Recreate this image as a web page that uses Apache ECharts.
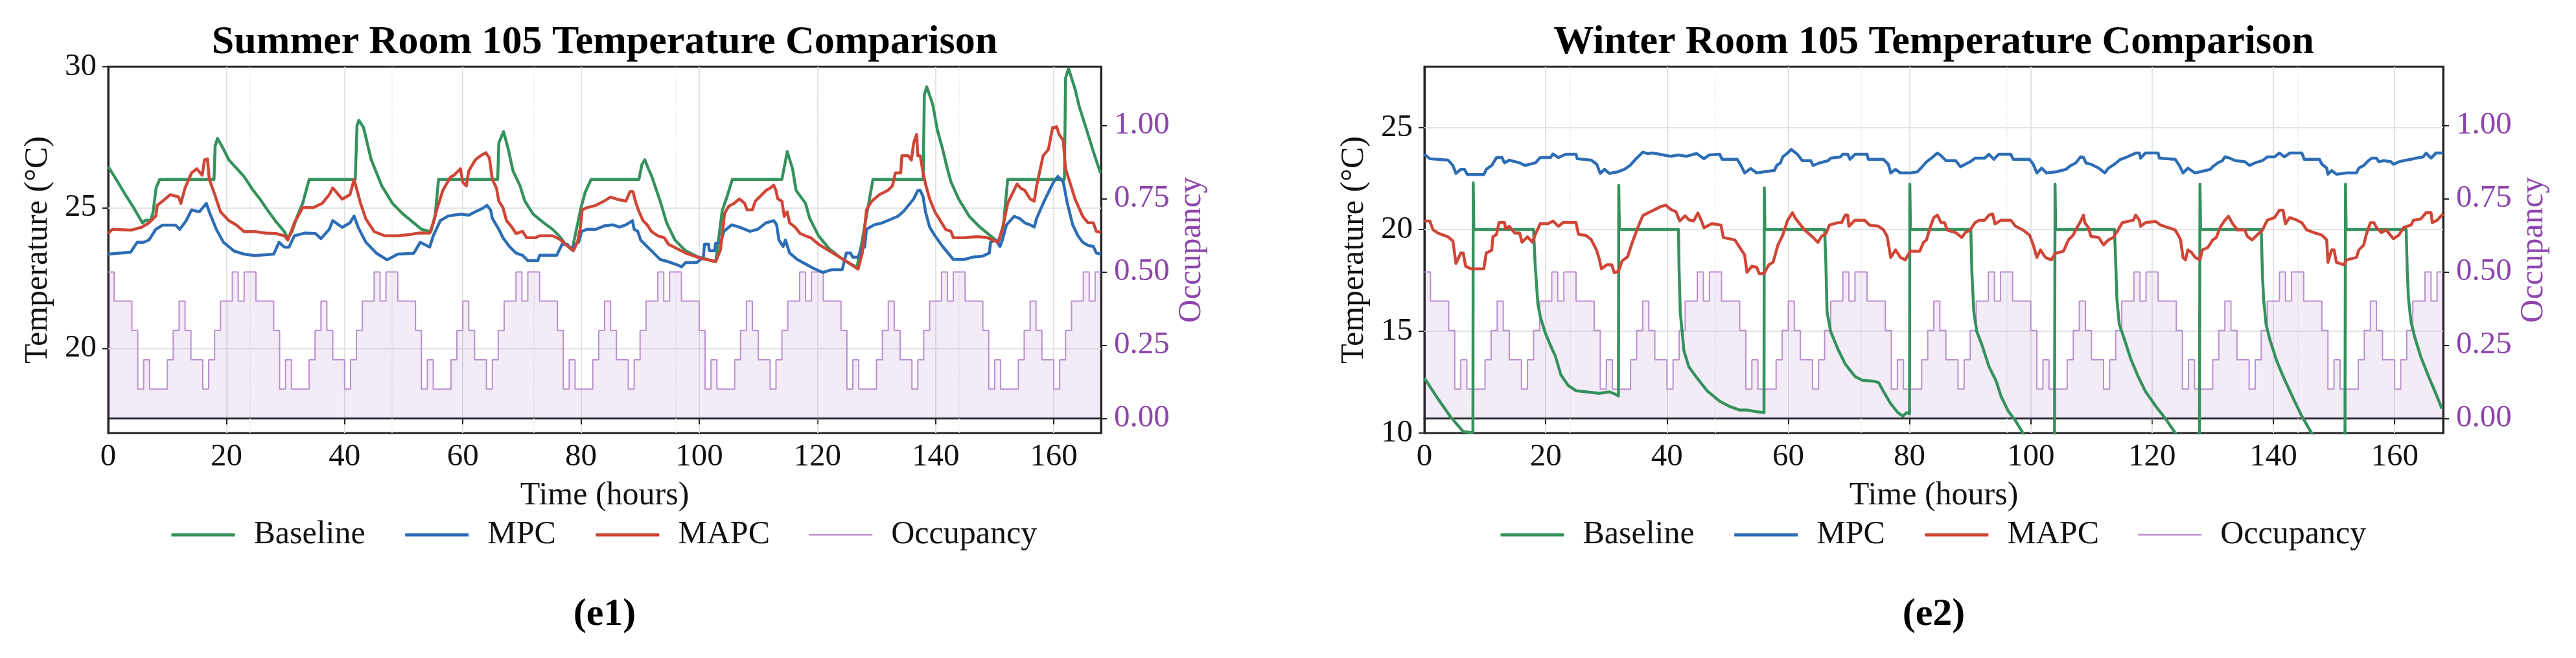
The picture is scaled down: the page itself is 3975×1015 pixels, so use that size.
<!DOCTYPE html>
<html>
<head>
<meta charset="utf-8">
<title>Room 105 Temperature Comparison</title>
<script src="https://cdn.jsdelivr.net/npm/echarts@6/dist/echarts.min.js"></script>
<style>
  html, body { margin: 0; padding: 0; background: #fff; }
  #main { width: 3975px; height: 1015px; }
</style>
</head>
<body>
<div id="main"></div>
<script>
// axis ticks
var timeTicks = [0, 20, 40, 60, 80, 100, 120, 140, 160];
var dayMarks = [24, 48, 72, 96, 120, 144];
var summerTempTicks = [20, 25, 30];
var winterTempTicks = [10, 15, 20, 25];
var occupancyTicks = [0, 0.25, 0.5, 0.75, 1];

// occupancy, one value per hour (last entry closes the final step at 168 h)
var occupancy = [
  0.5,0.4,0.4,0.4,0.3,0.1,0.2,0.1,0.1,0.1,0.2,0.3,0.4,0.3,0.2,0.2,0.1,0.2,0.3,0.4,0.4,0.5,0.4,0.5,
  0.5,0.4,0.4,0.4,0.3,0.1,0.2,0.1,0.1,0.1,0.2,0.3,0.4,0.3,0.2,0.2,0.1,0.2,0.3,0.4,0.4,0.5,0.4,0.5,
  0.5,0.4,0.4,0.4,0.3,0.1,0.2,0.1,0.1,0.1,0.2,0.3,0.4,0.3,0.2,0.2,0.1,0.2,0.3,0.4,0.4,0.5,0.4,0.5,
  0.5,0.4,0.4,0.4,0.3,0.1,0.2,0.1,0.1,0.1,0.2,0.3,0.4,0.3,0.2,0.2,0.1,0.2,0.3,0.4,0.4,0.5,0.4,0.5,
  0.5,0.4,0.4,0.4,0.3,0.1,0.2,0.1,0.1,0.1,0.2,0.3,0.4,0.3,0.2,0.2,0.1,0.2,0.3,0.4,0.4,0.5,0.4,0.5,
  0.5,0.4,0.4,0.4,0.3,0.1,0.2,0.1,0.1,0.1,0.2,0.3,0.4,0.3,0.2,0.2,0.1,0.2,0.3,0.4,0.4,0.5,0.4,0.5,
  0.5,0.4,0.4,0.4,0.3,0.1,0.2,0.1,0.1,0.1,0.2,0.3,0.4,0.3,0.2,0.2,0.1,0.2,0.3,0.4,0.4,0.5,0.4,0.5,
  0.5
];

// summer, [hour, degC]
var summerBaseline = [
  [0,26.46],[1.6,25.92],[2.9,25.46],[4.3,25.0],[5.8,24.46],[6.3,24.55],[7.2,24.55],[7.6,24.85],[8.1,25.7],[8.7,26.0],
  [17.9,26.0],[18.1,27.2],[18.5,27.46],[19.5,27.08],[20.4,26.7],[21.6,26.42],[23.0,26.1],[24.4,25.65],[25.7,25.3],[27.0,24.9],
  [28.4,24.5],[29.8,24.15],[30.4,23.9],[31.1,24.15],[32.0,24.7],[32.9,25.15],[34.0,26.0],[41.8,26.0],[42.1,27.9],[42.4,28.1],
  [43.2,27.85],[44.5,26.7],[46.3,25.77],[48.1,25.15],[49.9,24.77],[51.7,24.46],[53.0,24.23],[54.6,24.15],[55.3,24.7],[55.9,26.0],
  [65.9,26.0],[66.1,27.3],[66.9,27.7],[67.7,27.07],[68.5,26.3],[69.7,25.77],[70.5,25.23],[71.9,24.77],[73.7,24.46],[75.2,24.23],
  [76.3,24.0],[77.4,23.7],[78.5,23.5],[80.0,25.0],[80.7,25.54],[81.7,26.0],[89.8,26.0],[90.3,26.53],[90.8,26.7],[91.4,26.38],
  [91.9,26.15],[93.4,25.23],[94.5,24.46],[95.9,23.85],[97.7,23.47],[99.9,23.24],[101.4,23.16],[102.8,23.08],[103.9,24.9],[104.7,25.38],
  [105.6,26.0],[114.0,26.0],[114.9,26.99],[115.8,26.38],[116.4,25.61],[118.0,25.15],[118.7,24.62],[120.2,24.0],[122.0,23.54],[123.8,23.24],
  [125.6,23.0],[126.7,22.89],[127.4,23.62],[128.3,24.7],[129.4,26.0],[137.9,26.0],[138.1,29.0],[138.5,29.29],[139.5,28.68],[140.3,27.76],
  [141.2,27.07],[141.9,26.46],[142.6,25.92],[143.9,25.31],[145.7,24.69],[147.5,24.31],[149.3,24.0],[150.6,23.77],[151.5,24.39],[152.2,26.0],
  [161.8,26.0],[162.0,29.6],[162.5,29.94],[163.6,29.21],[164.3,28.6],[165.8,27.6],[166.7,26.99],[167.9,26.23]
];
var summerMPC = [
  [0,23.35],[3.8,23.42],[4.9,23.77],[6.0,23.77],[6.9,23.85],[8.05,24.23],[9.2,24.38],[11.4,24.38],[12.1,24.23],[13.2,24.54],
  [14.1,24.92],[15.4,24.85],[16.6,25.15],[17.1,24.85],[18.3,24.23],[19.5,23.77],[21.3,23.46],[23.0,23.35],[24.8,23.3],[28.0,23.35],
  [28.9,23.77],[29.8,23.6],[30.6,23.6],[31.5,24.0],[33.3,24.1],[35.1,24.08],[36.0,23.9],[37.4,24.23],[38.0,24.54],[39.6,24.3],
  [40.9,24.46],[41.6,24.7],[42.3,24.3],[43.6,23.77],[45.4,23.38],[47.2,23.15],[49.0,23.35],[51.7,23.38],[52.8,23.77],[54.4,23.6],
  [55.0,24.0],[56.2,24.54],[57.5,24.7],[59.7,24.77],[61.0,24.73],[62.1,24.85],[63.2,24.96],[64.1,25.08],[64.7,24.92],[65.0,24.62],
  [66.1,24.23],[66.8,23.93],[67.9,23.62],[69.0,23.39],[70.1,23.31],[71.0,23.12],[72.7,23.12],[73.0,23.31],[75.9,23.31],[76.8,23.7],
  [77.7,23.7],[78.3,23.54],[79.0,23.7],[79.6,23.77],[80.1,24.16],[81.0,24.23],[82.5,24.23],[83.9,24.35],[85.4,24.39],[86.5,24.31],
  [87.6,24.39],[88.7,24.54],[89.0,24.23],[89.6,24.16],[90.1,23.85],[91.2,23.62],[92.3,23.39],[93.4,23.16],[94.8,23.08],[96.3,22.97],
  [97.0,22.9],[97.7,23.05],[99.6,23.05],[100.7,23.24],[100.9,23.7],[101.6,23.7],[101.7,23.47],[102.6,23.47],[102.8,23.74],[103.6,23.74],
  [104.2,24.16],[105.5,24.39],[106.8,24.31],[108.6,24.16],[109.9,24.23],[111.3,24.46],[112.6,24.54],[113.1,24.4],[113.5,23.85],[114.2,23.62],
  [114.6,23.85],[115.3,23.39],[116.6,23.16],[118.0,23.0],[119.3,22.85],[120.9,22.7],[122.5,22.8],[124.2,22.8],[124.9,23.39],[125.6,23.39],
  [126.0,23.24],[126.9,23.24],[127.4,23.54],[128.0,23.6],[128.3,24.23],[129.6,24.39],[131.0,24.46],[131.9,24.54],[133.6,24.69],[134.5,24.85],
  [135.4,25.08],[136.3,25.31],[137.0,25.61],[137.4,25.61],[137.9,25.38],[138.3,24.85],[139.0,24.31],[139.9,24.0],[141.2,23.62],[142.1,23.39],
  [143.0,23.16],[144.8,23.16],[146.2,23.24],[148.0,23.28],[149.1,23.39],[149.3,23.77],[150.2,23.85],[150.9,23.62],[151.3,23.85],[152.0,24.39],
  [153.3,24.69],[154.2,24.62],[155.1,24.46],[156.0,24.39],[156.7,24.31],[157.1,24.62],[158.2,25.15],[159.1,25.54],[160.0,25.92],[160.7,26.11],
  [161.6,25.92],[162.3,25.15],[163.2,24.39],[164.1,24.0],[164.9,23.77],[165.8,23.66],[166.7,23.62],[167.2,23.39],[168,23.35]
];
var summerMAPC = [
  [0,24.08],[0.7,24.23],[3.8,24.2],[5.6,24.3],[6.9,24.46],[8.05,24.7],[8.3,25.08],[9.6,25.3],[10.5,25.46],[11.9,25.38],
  [12.3,25.15],[13.0,25.7],[14.1,26.23],[15.0,26.38],[15.9,26.15],[16.3,26.7],[16.8,26.73],[17.1,26.0],[17.9,25.54],[19.0,24.85],
  [20.4,24.54],[21.7,24.38],[23.0,24.15],[24.8,24.15],[26.6,24.1],[28.4,24.08],[29.8,24.0],[30.4,23.85],[31.5,24.46],[32.9,25.0],
  [34.7,25.0],[36.2,25.15],[37.4,25.46],[38.0,25.7],[39.6,25.3],[40.9,25.46],[41.6,26.0],[41.8,25.85],[42.7,25.15],[43.6,24.6],
  [45.0,24.15],[46.8,24.0],[49.0,24.0],[50.8,24.04],[52.6,24.1],[54.4,24.1],[55.0,24.46],[55.7,25.0],[56.6,25.6],[57.9,26.08],
  [58.5,26.15],[59.6,26.38],[60.0,25.9],[60.6,25.77],[61.0,26.3],[62.1,26.69],[63.0,26.84],[63.9,26.95],[64.5,26.76],[65.0,26.0],
  [65.7,25.69],[66.1,25.23],[66.8,25.0],[67.4,24.54],[68.3,24.31],[69.0,24.08],[70.1,24.16],[70.8,23.93],[72.3,23.93],[73.0,24.0],
  [75.2,24.0],[76.3,23.89],[77.4,23.7],[78.7,23.47],[79.4,23.77],[79.9,24.3],[80.2,24.92],[81.0,25.0],[82.5,25.08],[83.9,25.23],
  [85.0,25.38],[86.1,25.3],[87.6,25.23],[88.3,25.57],[88.8,25.57],[89.2,25.23],[89.7,24.92],[90.5,24.54],[91.2,24.39],[91.9,24.16],
  [93.0,24.0],[94.1,23.93],[94.8,23.7],[96.3,23.54],[97.7,23.39],[99.2,23.28],[100.3,23.2],[102.1,23.12],[102.8,23.08],[103.6,23.5],
  [104.3,24.8],[105.0,25.05],[105.9,25.15],[106.8,25.31],[107.7,25.15],[108.1,24.92],[109.0,24.92],[109.5,25.23],[111.3,25.61],[112.0,25.69],
  [112.6,25.8],[113.0,25.61],[113.3,25.31],[114.0,25.23],[114.4,24.69],[114.9,24.85],[115.3,24.46],[116.2,24.31],[117.1,24.08],[118.0,24.0],
  [118.9,23.93],[120.2,23.7],[122.0,23.47],[123.8,23.24],[125.6,23.0],[126.9,22.82],[127.6,23.39],[128.3,24.92],[129.2,25.23],[130.5,25.46],
  [131.9,25.61],[132.7,25.77],[133.2,26.23],[134.1,26.23],[134.3,26.84],[135.4,26.84],[135.9,26.69],[136.3,27.3],[136.8,27.6],[137.0,26.84],
  [137.4,26.84],[137.9,26.23],[138.3,25.84],[139.0,25.31],[139.9,24.85],[140.8,24.54],[141.7,24.23],[142.6,24.16],[143.0,23.93],[144.8,23.93],
  [147.1,23.97],[148.8,23.93],[150.6,23.77],[151.3,24.23],[152.2,25.15],[152.9,25.46],[153.8,25.84],[154.4,25.69],[155.1,25.61],[156.0,25.31],
  [156.7,25.23],[157.1,25.77],[158.2,26.84],[159.1,27.07],[159.8,27.84],[160.5,27.87],[160.9,27.6],[161.6,27.38],[162.0,26.38],[162.7,25.92],
  [163.6,25.31],[164.9,24.69],[165.8,24.46],[166.7,24.46],[167.2,24.16],[168,24.12]
];

// winter, [hour, degC] (baseline night values fall below the 10 degC floor)
var winterBaseline = [
  [0,12.7],[2.2,11.7],[4.3,10.8],[6.4,10.07],[8.0,10.02],[8.05,22.3],[8.15,20.0],[18.0,20.0],[18.25,18.33],[18.7,16.38],
  [19.1,15.73],[19.9,14.95],[20.8,14.3],[21.6,13.78],[22.5,12.86],[23.7,12.34],[25.0,12.08],[26.7,12.02],[28.8,11.95],[30.5,12.02],
  [31.2,11.95],[32.0,11.82],[32.05,22.17],[32.15,20.0],[41.9,20.0],[42.0,18.0],[42.2,15.9],[42.8,14.04],[43.6,13.26],[44.9,12.73],
  [46.6,12.08],[48.7,11.56],[50.4,11.3],[52.0,11.13],[53.2,11.13],[54.4,11.07],[56.0,11.0],[56.05,22.05],[56.15,20.0],[66.0,20.0],
  [66.2,18.4],[66.4,15.95],[67.0,14.98],[68.2,14.12],[69.4,13.39],[71.0,12.78],[72.2,12.6],[74.2,12.54],[74.9,12.48],[75.7,12.05],
  [76.9,11.44],[78.1,11.0],[78.9,10.83],[79.5,11.0],[80.0,10.95],[80.05,22.23],[80.15,20.0],[90.1,20.0],[90.3,17.78],[90.6,15.95],
  [91.1,14.98],[91.9,14.37],[93.1,13.27],[94.3,12.54],[95.1,11.8],[96.3,11.07],[97.5,10.59],[98.7,10.0],[100.0,9.3],[102.0,8.6],
  [103.9,8.0],[104.0,22.23],[104.1,20.0],[113.8,20.0],[114.0,18.4],[114.2,16.56],[114.6,15.34],[115.3,14.73],[116.5,13.63],[117.7,12.78],
  [118.9,12.05],[120.6,11.32],[122.2,10.71],[123.6,10.1],[125.0,9.5],[127.8,8.6],[127.9,22.23],[128.0,20.0],[138.0,20.0],[138.2,17.78],
  [138.4,16.56],[138.8,15.34],[139.4,14.61],[140.6,13.51],[141.8,12.66],[143.5,11.56],[144.7,10.83],[146.1,10.1],[148.0,9.3],[151.8,8.4],
  [151.9,22.23],[152.0,20.0],[161.9,20.0],[162.1,17.78],[162.3,16.56],[162.7,15.46],[163.3,14.73],[164.3,13.76],[165.6,12.78],[166.8,11.93],
  [167.8,11.2]
];
var winterMPC = [
  [0,23.7],[0.9,23.48],[3.9,23.41],[4.7,23.15],[5.2,22.76],[6.0,22.96],[6.6,22.96],[7.1,22.7],[9.8,22.7],[10.2,22.96],
  [11.1,23.15],[11.9,23.54],[12.8,23.54],[13.2,23.28],[14.0,23.41],[15.7,23.28],[16.6,23.15],[18.3,23.28],[19.1,23.54],[20.8,23.54],
  [21.2,23.71],[22.1,23.54],[23.3,23.7],[25.0,23.7],[25.2,23.48],[27.5,23.41],[28.4,23.22],[29.0,22.76],[29.7,22.96],[30.5,22.76],
  [31.8,22.83],[33.0,22.96],[33.9,23.15],[34.9,23.48],[36.0,23.8],[36.8,23.74],[37.7,23.76],[39.4,23.67],[40.6,23.6],[41.9,23.67],
  [43.2,23.6],[44.9,23.74],[46.1,23.48],[47.0,23.67],[48.7,23.7],[49.1,23.45],[51.6,23.45],[52.2,23.15],[52.8,22.78],[53.8,23.0],
  [54.8,22.78],[56.0,22.84],[57.7,22.9],[58.1,23.15],[58.7,23.27],[59.1,23.57],[59.9,23.76],[60.5,23.94],[61.5,23.7],[62.3,23.39],
  [63.7,23.39],[64.1,23.15],[65.1,23.27],[66.6,23.39],[67.0,23.51],[68.6,23.57],[69.0,23.7],[69.8,23.7],[70.2,23.45],[71.0,23.7],
  [73.0,23.7],[73.2,23.45],[75.7,23.45],[76.5,23.21],[76.9,22.78],[77.7,22.96],[78.5,22.78],[80.1,22.78],[81.3,22.84],[82.1,23.09],
  [82.8,23.33],[83.6,23.51],[84.6,23.76],[85.2,23.63],[86.0,23.39],[87.6,23.39],[88.4,23.09],[89.2,23.21],[90.0,23.33],[90.8,23.51],
  [92.4,23.51],[93.1,23.7],[93.9,23.45],[94.7,23.7],[96.7,23.7],[97.1,23.45],[99.8,23.45],[100.4,23.21],[101.0,22.78],[101.8,23.02],
  [102.6,22.78],[104.2,22.84],[105.8,22.96],[106.6,23.15],[107.4,23.27],[108.2,23.57],[108.7,23.54],[109.1,23.27],[109.9,23.21],[111.2,23.02],
  [112.2,22.78],[112.8,23.02],[113.8,23.21],[114.8,23.45],[115.9,23.57],[117.3,23.76],[117.9,23.76],[118.1,23.51],[118.9,23.76],[121.0,23.76],
  [121.2,23.51],[123.8,23.45],[124.5,23.15],[125.1,22.78],[125.9,23.02],[127.1,22.78],[129.6,22.96],[130.0,23.09],[130.8,23.27],[131.6,23.39],
  [132.0,23.57],[132.8,23.51],[133.7,23.39],[135.3,23.33],[136.1,23.15],[136.9,23.27],[138.2,23.39],[139.0,23.57],[140.2,23.57],[141.0,23.76],
  [141.8,23.57],[142.7,23.76],[144.7,23.76],[145.1,23.45],[147.6,23.45],[148.0,23.21],[148.8,23.02],[149.0,22.72],[149.6,22.9],[150.4,22.72],
  [152.1,22.78],[153.7,22.78],[154.1,23.02],[154.9,23.15],[155.7,23.39],[156.2,23.51],[157.0,23.51],[157.4,23.33],[158.2,23.39],[159.4,23.33],
  [159.8,23.21],[160.7,23.33],[161.5,23.39],[162.7,23.45],[163.5,23.51],[164.7,23.57],[165.2,23.76],[166.0,23.51],[166.8,23.76],[168,23.76]
];
var winterMAPC = [
  [0,20.42],[0.9,20.42],[1.4,20.0],[2.2,19.83],[3.9,19.64],[4.7,19.44],[5.2,18.33],[6.0,18.85],[6.4,18.85],[6.8,18.2],
  [7.7,18.07],[9.8,18.07],[10.2,18.85],[11.1,18.98],[11.3,19.64],[11.9,19.77],[12.3,20.35],[13.2,20.35],[13.4,20.03],[14.0,20.16],
  [14.9,19.83],[15.7,19.83],[16.1,19.38],[17.0,19.64],[17.8,19.38],[18.3,19.77],[19.1,20.29],[20.4,20.29],[21.2,20.42],[22.1,20.16],
  [22.9,20.35],[25.0,20.35],[25.4,19.77],[26.7,19.7],[27.5,19.51],[28.4,18.98],[28.8,18.59],[29.2,18.07],[30.1,18.27],[30.9,18.27],
  [31.3,17.88],[32.0,17.94],[32.6,18.46],[33.5,18.66],[34.3,19.38],[35.1,20.03],[36.0,20.68],[36.8,20.81],[37.7,20.94],[39.0,21.13],
  [39.8,21.2],[40.6,21.0],[41.5,20.87],[42.1,20.42],[43.0,20.68],[43.6,20.48],[44.4,20.42],[45.1,20.81],[45.7,20.42],[46.1,20.09],
  [47.4,20.29],[48.9,20.22],[49.3,19.61],[51.2,19.49],[52.0,19.12],[52.8,18.76],[53.2,17.9],[54.0,18.2],[54.8,18.15],[55.2,17.84],
  [56.0,17.84],[56.8,18.27],[57.5,18.39],[58.3,19.24],[59.1,19.73],[59.9,20.46],[60.7,20.83],[61.1,20.59],[61.9,20.28],[62.7,19.98],
  [63.9,19.67],[64.9,19.37],[65.5,19.67],[66.2,19.79],[66.8,20.22],[68.2,20.34],[68.8,20.34],[69.4,20.71],[69.8,20.71],[70.0,20.16],
  [70.6,20.34],[71.0,20.46],[72.6,20.46],[73.4,20.22],[74.9,20.16],[75.7,19.98],[76.3,19.67],[76.9,18.63],[77.7,19.0],[78.5,18.63],
  [79.3,18.51],[80.1,18.94],[81.7,18.94],[82.3,19.37],[82.8,19.49],[83.4,20.1],[84.0,20.59],[84.6,20.71],[85.2,20.34],[85.8,20.34],
  [86.2,19.98],[87.6,19.85],[88.6,19.61],[89.2,19.85],[90.0,19.98],[90.8,20.34],[91.5,20.46],[92.4,20.46],[93.1,20.71],[93.7,20.77],
  [94.1,20.28],[95.1,20.46],[96.7,20.46],[97.5,20.16],[98.7,19.98],[99.8,19.73],[100.4,19.24],[101.0,18.63],[101.6,19.0],[102.4,18.63],
  [103.4,18.51],[104.0,18.82],[105.4,18.94],[106.2,19.49],[107.0,19.73],[107.5,20.04],[108.1,20.34],[108.7,20.71],[108.9,20.34],[109.5,20.1],
  [109.9,19.67],[111.2,19.61],[112.0,19.24],[112.4,19.37],[112.8,19.49],[113.6,19.61],[114.4,19.98],[115.1,20.34],[116.9,20.46],[117.3,20.71],
  [117.9,20.46],[118.1,20.16],[118.9,20.34],[120.6,20.4],[121.4,20.22],[122.6,20.1],[123.8,19.98],[124.3,19.73],[124.7,19.49],[125.1,18.63],
  [125.5,18.51],[125.9,19.0],[126.5,18.88],[127.1,18.63],[127.9,18.51],[128.3,19.0],[129.2,19.12],[130.0,19.49],[130.6,19.61],[131.2,20.1],
  [132.0,20.46],[132.6,20.65],[133.3,20.28],[134.1,19.98],[135.3,19.98],[135.7,19.67],[136.5,19.49],[137.3,19.73],[138.2,19.98],[139.0,20.46],
  [140.2,20.59],[141.0,20.95],[141.6,20.95],[142.0,20.28],[142.7,20.59],[143.9,20.46],[144.7,20.34],[145.5,19.98],[146.7,19.85],[148.0,19.73],
  [148.8,19.49],[149.0,18.39],[149.6,19.0],[150.0,19.0],[150.4,18.39],[151.6,18.27],[152.1,18.51],[153.7,18.63],[154.1,19.0],[154.9,19.24],
  [155.3,19.73],[156.0,20.34],[156.6,20.34],[157.0,20.1],[157.8,19.85],[158.6,19.98],[159.8,19.55],[160.7,19.73],[161.5,20.1],[162.7,20.22],
  [163.1,20.46],[164.3,20.52],[165.2,20.83],[166.0,20.83],[166.2,20.34],[167.0,20.46],[168,20.77]
];

var FONT = 'Liberation Serif';
var GREEN = '#35915d';
var BLUE = '#2c6db5';
var RED = '#cf4536';
var PURPLE = '#8e44ad';
var OCC_LINE = '#bb8fd0';
var OCC_FILL = 'rgba(155, 89, 182, 0.17)';

var chart = echarts.init(document.getElementById('main'));

var panels = [
  { key: 'summer', left: 167, width: 1532, tMin: 17, tMax: 30, tTicks: summerTempTicks,
    base: summerBaseline, mpc: summerMPC, mapc: summerMAPC,
    title: 'Summer Room 105 Temperature Comparison', tag: '(e1)', legendLeft: 257 },
  { key: 'winter', left: 2198, width: 1572, tMin: 10, tMax: 28, tTicks: winterTempTicks,
    base: winterBaseline, mpc: winterMPC, mapc: winterMAPC,
    title: 'Winter Room 105 Temperature Comparison', tag: '(e2)', legendLeft: 2308 }
];

var grids = [], xAxes = [], yAxes = [], series = [], legends = [], graphics = [];

// legend entries: plain line samples, no marker
var hidden = { color: 'transparent', borderColor: 'transparent', borderWidth: 0, opacity: 0 };
var legendItems = [
  { name: 'Baseline', itemStyle: hidden, lineStyle: { color: GREEN, width: 5 } },
  { name: 'MPC', itemStyle: hidden, lineStyle: { color: BLUE, width: 5 } },
  { name: 'MAPC', itemStyle: hidden, lineStyle: { color: RED, width: 5 } },
  { name: 'Occupancy', itemStyle: hidden, lineStyle: { color: OCC_LINE, width: 2.5 } }
];

panels.forEach(function (p, i) {
  var center = p.left + p.width / 2;
  grids.push({ left: p.left, top: 103, width: p.width, height: 565,
    show: true, borderColor: '#222', borderWidth: 3, backgroundColor: 'transparent' });

  xAxes.push({
    type: 'value', gridIndex: i, min: 0, max: 168, interval: 20,
    axisLine: { lineStyle: { color: '#222', width: 3 } },
    axisTick: { length: 9, lineStyle: { color: '#222', width: 2 }, customValues: timeTicks },
    axisLabel: { fontFamily: FONT, fontSize: 49, color: '#111', margin: 13, customValues: timeTicks },
    splitLine: { show: true, lineStyle: { color: '#e3e3e3', width: 2 } },
    name: 'Time (hours)', nameLocation: 'middle', nameGap: 72,
    nameTextStyle: { fontFamily: FONT, fontSize: 50, color: '#111', lineHeight: 50 }
  });

  // left: temperature
  yAxes.push({
    type: 'value', gridIndex: i, position: 'left', min: p.tMin, max: p.tMax,
    axisLine: { show: true, lineStyle: { color: '#222', width: 3 } },
    axisTick: { show: true, length: 9, lineStyle: { color: '#222', width: 2 }, customValues: p.tTicks },
    axisLabel: { fontFamily: FONT, fontSize: 49, color: '#111', margin: 18, customValues: p.tTicks },
    splitLine: { show: false },
    name: 'Temperature (°C)', nameLocation: 'middle', nameGap: 83, nameRotate: 90,
    nameTextStyle: { fontFamily: FONT, fontSize: 50, color: '#111', lineHeight: 50 }
  });
  // right: occupancy
  yAxes.push({
    type: 'value', gridIndex: i, position: 'right', min: -0.05, max: 1.2,
    axisLine: { show: true, lineStyle: { color: '#222', width: 3 } },
    axisTick: { show: true, length: 9, lineStyle: { color: '#222', width: 2 }, customValues: occupancyTicks },
    axisLabel: { fontFamily: FONT, fontSize: 49, color: PURPLE, margin: 20, customValues: occupancyTicks,
      formatter: function (v) { return v.toFixed(2); } },
    splitLine: { show: false },
    name: 'Occupancy', nameLocation: 'middle', nameGap: 115, nameRotate: 90,
    nameTextStyle: { fontFamily: FONT, fontSize: 50, color: PURPLE, lineHeight: 50 }
  });

  var yLeft = i * 2, yRight = i * 2 + 1;

  // temperature grid lines and faint day separators, kept beneath the data
  series.push({
    name: 'grid-' + p.key, type: 'line', xAxisIndex: i, yAxisIndex: yLeft, data: [], z: 1,
    silent: true,
    markLine: {
      z: 1, silent: true, symbol: 'none', label: { show: false }, animation: false,
      lineStyle: { color: '#e3e3e3', width: 2, type: 'solid' },
      data: p.tTicks.filter(function (v) { return v > p.tMin && v < p.tMax; }).map(function (v) { return { yAxis: v }; })
        .concat(dayMarks.map(function (d) { return { xAxis: d, lineStyle: { color: '#e6e6e6', width: 1.5, type: 'dotted' } }; }))
    }
  });

  series.push({
    name: 'Occupancy', type: 'line', xAxisIndex: i, yAxisIndex: yRight, step: 'end', symbol: 'none', z: 2,
    lineStyle: { color: OCC_LINE, width: 2 }, itemStyle: { color: OCC_LINE },
    areaStyle: { color: OCC_FILL },
    data: occupancy.map(function (v, h) { return [h, v]; })
  });

  [['Baseline', p.base, GREEN], ['MPC', p.mpc, BLUE], ['MAPC', p.mapc, RED]].forEach(function (s) {
    series.push({
      name: s[0], type: 'line', xAxisIndex: i, yAxisIndex: yLeft, symbol: 'none', z: 3, clip: true,
      lineStyle: { color: s[2], width: 4.5, join: 'round' }, itemStyle: { color: s[2] },
      data: s[1]
    });
  });

  legends.push({
    left: p.legendLeft, top: 795, orient: 'horizontal', itemWidth: 98, itemHeight: 20, itemGap: 59,
    selectedMode: false,
    itemStyle: hidden,
    data: legendItems,
    textStyle: { fontFamily: FONT, fontSize: 50, color: '#111', lineHeight: 50, padding: [0, 0, 0, 24] }
  });

  graphics.push({
    type: 'text', x: center, y: 66,
    style: { text: p.title, font: 'bold 62px "Liberation Serif"', fill: '#000', textAlign: 'center', textVerticalAlign: 'middle' }
  });
  graphics.push({
    type: 'text', x: center, y: 948,
    style: { text: p.tag, font: 'bold 60px "Liberation Serif"', fill: '#000', textAlign: 'center', textVerticalAlign: 'middle' }
  });
});

chart.setOption({
  animation: false,
  backgroundColor: '#fff',
  grid: grids,
  xAxis: xAxes,
  yAxis: yAxes,
  legend: legends,
  graphic: graphics,
  series: series
});
</script>
</body>
</html>
